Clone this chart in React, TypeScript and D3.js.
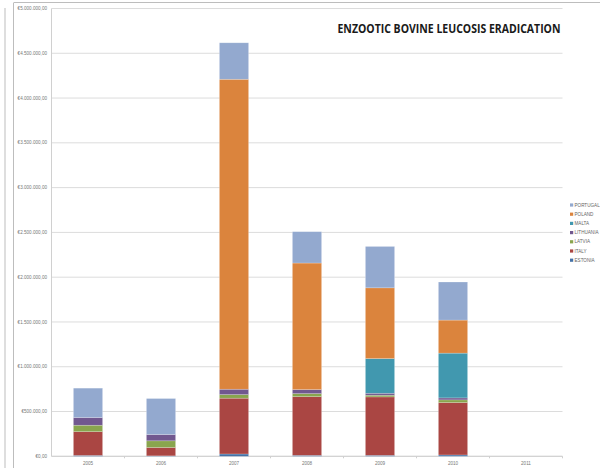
import React from "react";
import * as d3 from "d3";

const years = ["2005", "2006", "2007", "2008", "2009", "2010", "2011"];
const seriesNames = ["ESTONIA", "ITALY", "LATVIA", "LITHUANIA", "MALTA", "POLAND", "PORTUGAL"];
const estonia = [10000, 5000, 26000, 11000, 11000, 15000, 0];
const italy = [265000, 93000, 623000, 655000, 652000, 585000, 0];
const latvia = [72000, 75000, 40000, 34000, 19000, 30000, 0];
const lithuania = [85000, 70000, 60000, 45000, 22000, 22000, 0];
const malta = [0, 0, 0, 0, 387000, 500000, 0];
const poland = [0, 0, 3461000, 1413000, 790000, 369000, 0];
const portugal = [329000, 402000, 407000, 350000, 462000, 425000, 0];
const colors = ["#4572A7", "#AA4643", "#89A54E", "#71588F", "#4198AF", "#DB843D", "#93A9CF"];
const yTicks = [0, 500000, 1000000, 1500000, 2000000, 2500000, 3000000, 3500000, 4000000, 4500000, 5000000];
const title = "ENZOOTIC BOVINE LEUCOSIS ERADICATION";

const fmt = (v: number) => {
  const s = d3.format(",")(v).replace(/,/g, ".");
  return "€" + s + ",00";
};

export default function App() {
  const W = 600, H = 468;
  const left = 51.5, right = 562.5, top = 8.5, bottom = 456.3;
  const x = d3.scaleBand().domain(years).range([left, right]).paddingInner(0.6).paddingOuter(0.3);
  const y = d3.scaleLinear().domain([0, 5000000]).range([bottom, top]);
  const band = d3.scaleBand().domain(years).range([left, right]);
  const data = years.map((yr, i) => {
    const o: any = { year: yr };
    o.ESTONIA = estonia[i]; o.ITALY = italy[i]; o.LATVIA = latvia[i]; o.LITHUANIA = lithuania[i];
    o.MALTA = malta[i]; o.POLAND = poland[i]; o.PORTUGAL = portugal[i];
    return o;
  });
  const stacked = d3.stack().keys(seriesNames)(data);
  const legendOrder = [...seriesNames].reverse();
  return (
    <svg width={W} height={H} style={{ position: "absolute", left: 0, top: 0, background: "#fff" }}>
      <rect x={0} y={0} width={W} height={H} fill="#fff" />
      <line x1={5} y1={8} x2={5} y2={H} stroke="#bdbdbd" strokeWidth={1} />
      <line x1={13.5} y1={3} x2={13.5} y2={H} stroke="#bdbdbd" strokeWidth={1} />
      <line x1={13.5} y1={2.5} x2={W} y2={2.5} stroke="#bdbdbd" strokeWidth={1} />
      {yTicks.map((t) => (
        <g key={t}>
          <line x1={left} x2={right} y1={y(t)} y2={y(t)} stroke="#dcdcdc" strokeWidth={1} />
          <text x={47} y={y(t)} dy="0.35em" textAnchor="end" fontSize={4.6} fill="#777" fontFamily="Liberation Sans, Arial, sans-serif">
            {fmt(t)}
          </text>
        </g>
      ))}
      <line x1={left} x2={left} y1={top} y2={bottom} stroke="#d0d0d0" strokeWidth={1} />
      <line x1={left} x2={right} y1={bottom} y2={bottom} stroke="#cfcfcf" strokeWidth={1} />
      {years.map((yr, i) => (
        <line key={"t" + yr} x1={(band(yr) as number) + band.bandwidth()} x2={(band(yr) as number) + band.bandwidth()} y1={bottom} y2={bottom + 2} stroke="#cfcfcf" />
      ))}
      {years.map((yr) => (
        <text key={"l" + yr} x={(band(yr) as number) + band.bandwidth() / 2} y={465} textAnchor="middle" fontSize={4.6} fill="#777" fontFamily="Liberation Sans, Arial, sans-serif">
          {yr}
        </text>
      ))}
      {stacked.map((s, si) => (
        <g key={s.key} fill={colors[si]}>
          {s.map((d: any, i: number) => {
            const h = y(d[0]) - y(d[1]);
            if (h <= 0) return null;
            return (
              <rect key={i} x={x(years[i])} y={y(d[1])} width={x.bandwidth()} height={h} stroke="#ffffff" strokeOpacity={0.35} strokeWidth={0.6} />
            );
          })}
        </g>
      ))}
      {legendOrder.map((name, i) => {
        const ci = seriesNames.indexOf(name);
        const ly = 205 + i * 9.2;
        return (
          <g key={name}>
            <rect x={570} y={ly - 1.6} width={3.2} height={3.2} fill={colors[ci]} />
            <text x={574.5} y={ly} dy="0.35em" fontSize={4.6} fill="#666" fontFamily="Liberation Sans, Arial, sans-serif">
              {name}
            </text>
          </g>
        );
      })}
      <text x={337.5} y={33} fontSize={11.5} fontWeight="bold" fill="#1a1a1a" fontFamily="Open Sans, Liberation Sans, sans-serif" textLength={223} lengthAdjust="spacingAndGlyphs">
        {title}
      </text>
    </svg>
  );
}
